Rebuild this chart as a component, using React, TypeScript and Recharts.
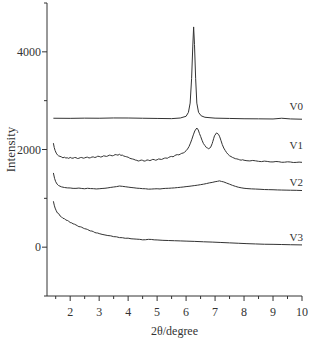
import React from 'react';
import { LineChart, Line, XAxis, YAxis, ReferenceDot } from 'recharts';

// [2theta, intensity]
const v0: [number, number][] = [
  [1.42, 2640], [2, 2638], [2.5, 2642], [3, 2640], [3.5, 2646], [4, 2645], [4.5, 2640],
  [5, 2636], [5.5, 2632], [5.8, 2645], [6.0, 2680], [6.08, 2760], [6.14, 2950],
  [6.19, 3450], [6.23, 4100], [6.26, 4510], [6.29, 4150], [6.33, 3450], [6.37, 2950],
  [6.43, 2760], [6.52, 2690], [6.65, 2660], [7, 2642], [7.5, 2636], [8, 2630],
  [8.5, 2628], [9, 2625], [9.3, 2640], [9.6, 2626], [10, 2620],
];

const v1: [number, number][] = [
  [1.42, 2130], [1.45, 2040], [1.48, 1980], [1.52, 1925], [1.56, 1890], [1.6, 1870],
  [1.65, 1860], [1.7, 1848], [1.75, 1830], [1.8, 1842], [1.85, 1826], [1.9, 1830],
  [1.95, 1818], [2.0, 1838], [2.05, 1824], [2.1, 1822], [2.15, 1836], [2.2, 1833],
  [2.25, 1816], [2.3, 1820], [2.35, 1834], [2.4, 1836], [2.45, 1822], [2.5, 1828],
  [2.55, 1840], [2.6, 1842], [2.65, 1826], [2.7, 1832], [2.75, 1846], [2.8, 1848],
  [2.85, 1836], [2.9, 1845], [2.95, 1862], [3.0, 1858], [3.05, 1846], [3.1, 1852],
  [3.15, 1870], [3.2, 1866], [3.25, 1858], [3.3, 1868], [3.35, 1884], [3.4, 1880],
  [3.45, 1870], [3.5, 1878], [3.55, 1896], [3.6, 1892], [3.65, 1884], [3.7, 1902],
  [3.75, 1880], [3.8, 1885], [3.85, 1866], [3.9, 1858], [3.95, 1850], [4.0, 1842],
  [4.05, 1824], [4.1, 1812], [4.15, 1806], [4.2, 1798], [4.25, 1784], [4.3, 1778],
  [4.35, 1764], [4.4, 1772], [4.45, 1784], [4.5, 1778], [4.55, 1762], [4.6, 1768],
  [4.65, 1786], [4.7, 1782], [4.75, 1772], [4.8, 1784], [4.85, 1798], [4.9, 1792],
  [4.95, 1780], [5.0, 1790], [5.05, 1806], [5.1, 1802], [5.15, 1796], [5.2, 1808],
  [5.25, 1822], [5.3, 1826], [5.35, 1820], [5.4, 1838], [5.45, 1852], [5.5, 1858],
  [5.55, 1850], [5.6, 1872], [5.65, 1888], [5.7, 1895], [5.75, 1890], [5.8, 1905],
  [5.85, 1922], [5.9, 1928], [5.95, 1946], [6.0, 1975], [6.05, 2010], [6.1, 2060],
  [6.15, 2130], [6.2, 2210], [6.25, 2300], [6.3, 2380], [6.37, 2440], [6.42, 2400],
  [6.46, 2330], [6.5, 2270], [6.55, 2190], [6.6, 2120], [6.65, 2080], [6.7, 2040],
  [6.74, 2030], [6.78, 2015], [6.82, 2030], [6.85, 2050], [6.9, 2120], [6.92, 2160],
  [6.95, 2220], [6.98, 2280], [7.05, 2340], [7.12, 2310], [7.16, 2260], [7.2, 2190],
  [7.25, 2100], [7.3, 2030], [7.35, 1980], [7.4, 1935], [7.45, 1900], [7.5, 1872],
  [7.55, 1856], [7.6, 1838], [7.65, 1826], [7.7, 1812], [7.75, 1808], [7.8, 1800],
  [7.85, 1788], [7.9, 1782], [7.95, 1790], [8.0, 1780], [8.1, 1770], [8.2, 1766],
  [8.3, 1776], [8.4, 1768], [8.5, 1758], [8.6, 1752], [8.7, 1762], [8.8, 1756],
  [8.9, 1746], [9.0, 1745], [9.1, 1754], [9.2, 1750], [9.3, 1738], [9.4, 1740],
  [9.5, 1748], [9.6, 1744], [9.7, 1734], [9.8, 1736], [9.9, 1742], [10, 1737],
];

const v2: [number, number][] = [
  [1.42, 1520], [1.46, 1410], [1.5, 1340], [1.55, 1290], [1.6, 1262], [1.7, 1235],
  [1.8, 1222], [1.9, 1214], [2.0, 1212], [2.1, 1204], [2.2, 1204], [2.3, 1210],
  [2.4, 1202], [2.5, 1196], [2.6, 1206], [2.7, 1200], [2.8, 1198], [2.9, 1192],
  [3.0, 1196], [3.1, 1202], [3.2, 1206], [3.3, 1214], [3.4, 1224], [3.5, 1232],
  [3.6, 1240], [3.7, 1252], [3.8, 1246], [3.9, 1238], [4.0, 1230], [4.1, 1222],
  [4.2, 1216], [4.3, 1208], [4.4, 1204], [4.5, 1198], [4.6, 1196], [4.7, 1188],
  [4.8, 1190], [4.9, 1194], [5.0, 1196], [5.1, 1192], [5.2, 1200], [5.3, 1204],
  [5.4, 1206], [5.5, 1210], [5.6, 1214], [5.7, 1220], [5.8, 1226], [5.9, 1232],
  [6.0, 1240], [6.1, 1246], [6.2, 1254], [6.3, 1262], [6.4, 1270], [6.5, 1280],
  [6.6, 1290], [6.7, 1302], [6.8, 1316], [6.9, 1326], [7.0, 1340], [7.08, 1348],
  [7.15, 1358], [7.22, 1346], [7.3, 1336], [7.4, 1312], [7.5, 1290], [7.6, 1266],
  [7.7, 1246], [7.8, 1228], [7.9, 1216], [8.0, 1206], [8.1, 1200], [8.25, 1194],
  [8.4, 1190], [8.55, 1186], [8.7, 1180], [8.85, 1178], [9.0, 1176], [9.15, 1172],
  [9.3, 1170], [9.45, 1168], [9.6, 1166], [9.8, 1164], [10, 1160],
];

const v3: [number, number][] = [
  [1.42, 940], [1.45, 860], [1.48, 800], [1.52, 745], [1.56, 700], [1.6, 690],
  [1.65, 640], [1.7, 620], [1.75, 590], [1.8, 585], [1.85, 555], [1.9, 548],
  [1.95, 530], [2.0, 505], [2.05, 498], [2.1, 478], [2.15, 470], [2.2, 455],
  [2.25, 438], [2.3, 420], [2.35, 418], [2.4, 408], [2.45, 390], [2.5, 378],
  [2.55, 372], [2.6, 362], [2.65, 345], [2.7, 332], [2.75, 330], [2.8, 318],
  [2.85, 300], [2.9, 292], [2.95, 290], [3.0, 278], [3.1, 262], [3.2, 250],
  [3.3, 238], [3.4, 232], [3.5, 215], [3.6, 212], [3.7, 196], [3.8, 194],
  [3.9, 182], [4.0, 184], [4.1, 172], [4.2, 168], [4.3, 164], [4.4, 160],
  [4.5, 150], [4.6, 152], [4.7, 160], [4.8, 158], [4.9, 150], [5.0, 148],
  [5.2, 140], [5.4, 136], [5.6, 132], [5.8, 128], [6.0, 124], [6.3, 118],
  [6.6, 110], [6.9, 104], [7.2, 96], [7.5, 88], [7.8, 80], [8.1, 72], [8.4, 66],
  [8.7, 60], [9.0, 58], [9.3, 54], [9.6, 50], [10, 46],
];

const seriesNames = ['V0', 'V1', 'V2', 'V3'];
// where each series name sits, in data units
const labelAnchors: [number, number][] = [
  [9.8, 2880], [9.8, 2100], [9.8, 1330], [9.8, 200],
];

const xTicks = [1.5, 2, 2.5, 3, 3.5, 4, 4.5, 5, 5.5, 6, 6.5, 7, 7.5, 8, 8.5, 9, 9.5, 10];
const yTicks = [-1000, 0, 1000, 2000, 3000, 4000, 5000];

const toPoints = (arr: [number, number][]) => arr.map(([x, y]) => ({ x, y }));

const FONT = 'Liberation Serif, Times New Roman, serif';
const INK = '#333';
const textStyle = { fontFamily: FONT, fill: INK };

const XTick = ({ x, y, payload }: any) => {
  const major = Number.isInteger(payload.value);
  return (
    <g>
      <line x1={x} x2={x} y1={y} y2={y + (major ? 5 : 3)} stroke={INK} />
      {major && (
        <text x={x} y={y + 20} textAnchor="middle" style={{ ...textStyle, fontSize: 12 }}>
          {payload.value}
        </text>
      )}
    </g>
  );
};

const YTick = ({ x, y, payload }: any) => {
  const major = payload.value % 2000 === 0;
  return (
    <g>
      <line x1={x - (major ? 5 : 3)} x2={x} y1={y} y2={y} stroke={INK} />
      {major && (
        <text x={x - 6} y={y} dy={4} textAnchor="end" style={{ ...textStyle, fontSize: 12 }}>
          {payload.value}
        </text>
      )}
    </g>
  );
};

const series = [v0, v1, v2, v3];

export default function App() {
  return (
    <div style={{ position: 'absolute', left: 0, top: 0, background: '#fff', fontFamily: FONT }}>
      <LineChart width={309} height={339} margin={{ top: 3, right: 7, left: 0, bottom: 0 }}>
        <XAxis
          type="number"
          dataKey="x"
          domain={[1.2, 10]}
          ticks={xTicks}
          interval={0}
          allowDataOverflow
          tickLine={false}
          tickSize={0}
          tickMargin={0}
          tick={<XTick />}
          axisLine={{ stroke: INK }}
          height={43}
          label={{
            value: '2θ/degree',
            position: 'insideBottom',
            offset: 4,
            style: { ...textStyle, fontSize: 12 },
          }}
        />
        <YAxis
          type="number"
          domain={[-1000, 5000]}
          ticks={yTicks}
          interval={0}
          allowDataOverflow
          tickLine={false}
          tickSize={0}
          tickMargin={0}
          tick={<YTick />}
          axisLine={{ stroke: INK }}
          width={47}
          label={{
            value: 'Intensity',
            angle: -90,
            position: 'insideLeft',
            offset: 10,
            style: { ...textStyle, fontSize: 13, textAnchor: 'middle' },
          }}
        />
        {series.map((s, i) => (
          <Line
            key={seriesNames[i]}
            data={toPoints(s)}
            dataKey="y"
            type="linear"
            stroke={INK}
            strokeWidth={1}
            dot={false}
            activeDot={false}
            isAnimationActive={false}
          />
        ))}
        {labelAnchors.map(([x, y], i) => (
          <ReferenceDot
            key={'lbl' + i}
            x={x}
            y={y}
            r={0}
            fill="none"
            stroke="none"
            label={{
              value: seriesNames[i],
              position: 'center',
              style: { ...textStyle, fontSize: 11 },
            }}
          />
        ))}
      </LineChart>
    </div>
  );
}
